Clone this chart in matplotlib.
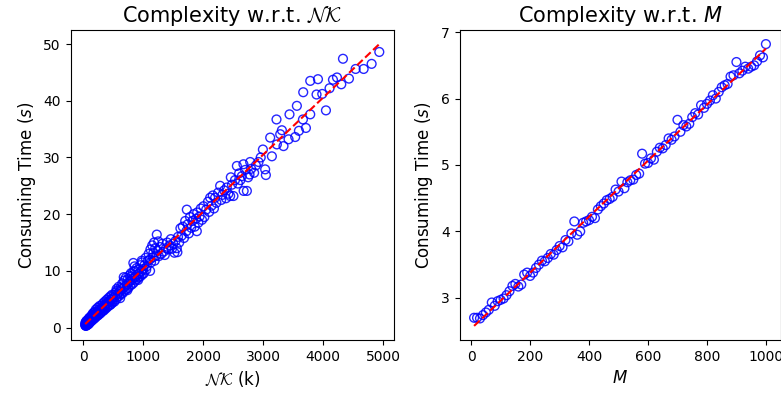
import numpy as np
import matplotlib
matplotlib.use("Agg")
import matplotlib.pyplot as plt

# ---- Left panel data: consuming time vs NK (k) ----
nk_x = [32, 35, 38, 40, 42, 45, 48, 50, 52, 55, 58, 60, 63, 65, 68, 70, 72, 75, 78, 80,
        83, 85, 88, 90, 93, 95, 98, 100, 105, 110, 115, 120, 125, 130, 135, 140, 145, 150,
        155, 160, 165, 170, 175, 180, 185, 190, 195, 200, 210, 220, 230, 240, 250, 260, 270,
        280, 290, 300, 310, 320, 330, 340, 350, 360, 370, 380, 390, 400, 410, 420, 430, 440,
        450, 460, 470, 480, 490, 500,
        36, 44, 53, 62, 74, 86, 97, 108, 118, 128, 142, 158, 172, 188, 205, 225, 245, 265,
        285, 305, 325, 345, 365, 385, 405, 425, 445, 465, 485,
        510, 520, 530, 540, 550, 560, 570, 580, 590, 600, 610, 620, 630, 640, 650, 660, 670,
        680, 690, 700, 710, 720, 730, 740, 750, 760, 770, 780, 790, 800, 810, 820, 830, 840,
        850, 860, 870, 880, 890, 900, 910, 920, 930, 940, 950, 960, 970, 980, 990, 1000,
        555, 615, 675, 735, 795, 835, 855, 915, 975,
        1010, 1020, 1040, 1050, 1060, 1080, 1090, 1114, 1110, 1120, 1130, 1150, 1160, 1170,
        1180, 1190, 1200, 1215, 1226, 1240, 1250, 1260, 1280, 1300, 1320, 1340, 1360, 1380,
        1400, 1420, 1440, 1460, 1480, 1500, 1520, 1540, 1560, 1570, 1580, 1600, 1620, 1640,
        1660, 1680, 1700, 1720, 1727, 1740, 1760, 1780, 1800, 1820, 1840, 1860, 1880, 1894,
        1900, 1920, 1940, 1960, 1980,
        2004, 2020, 2050, 2080, 2100, 2116, 2140, 2160, 2180, 2199, 2220, 2250, 2283, 2300,
        2320, 2350, 2380, 2394, 2420, 2450, 2461, 2480, 2505, 2530, 2562, 2580, 2600, 2620,
        2645, 2672, 2675, 2700, 2729, 2750, 2773, 2784, 2800, 2850, 2880, 2923, 2960, 2996,
        3034, 3046, 3118, 3146, 3223, 3229, 3285, 3313, 3340, 3424, 3440, 3535, 3563, 3597,
        3664, 3669, 3714, 3786, 3786, 3891, 3915, 3986, 4048, 4108, 4165, 4232, 4304, 4332,
        4432, 4543, 4677, 4810, 4938]
nk_y = [0.45, 0.6, 0.35, 0.8, 0.5, 0.3, 0.9, 0.6, 0.4, 1.0, 0.7, 0.5, 1.1, 0.8, 0.6, 1.2,
        0.7, 0.9, 1.3, 0.6, 1.0, 1.4, 0.8, 1.1, 1.6, 0.9, 1.2, 1.7, 1.0, 1.3, 1.8, 1.1, 1.5,
        2.0, 1.2, 1.6, 2.2, 1.4, 1.8, 2.5, 1.5, 1.9, 2.6, 1.6, 2.1, 2.8, 1.8, 2.3, 3.2, 2.0,
        2.6, 3.5, 2.2, 2.9, 3.8, 2.6, 3.1, 3.9, 2.8, 3.4, 4.3, 3.0, 3.7, 4.6, 3.3, 4.0, 4.9,
        3.6, 4.3, 5.2, 3.9, 4.6, 5.5, 4.1, 4.9, 5.8, 4.4, 5.2,
        0.9, 0.4, 1.2, 0.9, 0.5, 1.1, 0.7, 1.6, 1.0, 1.7, 1.2, 2.0, 1.5, 2.3, 1.8, 2.8, 2.2,
        3.2, 2.5, 3.4, 3.0, 4.0, 3.4, 4.3, 3.8, 4.7, 4.0, 5.0, 4.6,
        5.8, 4.6, 5.5, 6.2, 5.0, 6.5, 5.4, 6.0, 7.2, 5.6, 6.4, 7.0, 5.9, 6.8, 7.8, 6.1, 7.0,
        8.3, 6.5, 7.3, 8.8, 6.8, 7.6, 8.5, 7.0, 8.0, 9.2, 7.4, 8.3, 9.0, 7.6, 8.6, 9.8, 7.9,
        8.8, 10.0, 8.3, 9.0, 10.5, 8.6, 9.4, 10.2, 8.9, 9.6, 11.0, 9.1, 10.0, 11.5, 9.4, 10.3,
        6.8, 5.2, 8.9, 6.6, 9.6, 11.4, 10.8, 8.4, 11.8,
        9.6, 11.0, 12.3, 10.2, 10.8, 11.8, 13.0, 10.0, 12.0, 13.8, 11.5, 14.5, 12.4, 13.2,
        15.0, 11.8, 14.0, 12.7, 16.4, 13.5, 15.2, 12.6, 14.2, 13.0, 14.8, 13.4, 12.8, 14.0,
        15.0, 13.8, 14.5, 15.6, 13.9, 14.8, 13.2, 15.3, 14.0, 13.3, 16.0, 15.0, 17.5, 16.2,
        17.8, 15.8, 18.8, 17.0, 20.8, 18.2, 16.6, 19.5, 17.6, 18.8, 20.0, 17.8, 19.2, 17.0,
        20.3, 18.5, 19.6, 21.0, 19.0,
        21.4, 19.5, 20.8, 22.2, 20.4, 22.9, 21.5, 23.3, 21.0, 22.9, 22.0, 23.8, 25.0, 22.5,
        23.4, 24.2, 22.8, 24.7, 23.6, 23.2, 26.5, 25.2, 23.2, 26.0, 28.5, 25.4, 27.2, 26.0,
        26.7, 28.8, 24.1, 27.8, 24.1, 26.5, 27.0, 29.2, 28.0, 27.3, 28.6, 29.2, 30.0, 31.4,
        27.9, 26.9, 33.5, 30.2, 36.7, 32.3, 34.1, 34.8, 32.0, 33.2, 37.6, 33.6, 39.1, 34.7,
        36.7, 41.5, 35.2, 43.5, 37.6, 41.1, 43.8, 41.2, 38.3, 42.2, 43.7, 44.1, 42.9, 47.4,
        43.9, 45.6, 45.6, 46.5, 48.6]

# ---- Right panel data: consuming time vs M ----
m_x = list(range(10, 1001, 10))
m_y = [2.70, 2.70, 2.69, 2.74, 2.78, 2.82, 2.93, 2.88, 2.95, 2.97,
       2.99, 3.04, 3.10, 3.18, 3.21, 3.17, 3.20, 3.35, 3.38, 3.33,
       3.38, 3.45, 3.50, 3.56, 3.55, 3.60, 3.66, 3.65, 3.72, 3.78,
       3.76, 3.87, 3.85, 3.97, 4.15, 3.95, 4.00, 4.13, 4.15, 4.17,
       4.22, 4.20, 4.33, 4.38, 4.42, 4.47, 4.49, 4.52, 4.63, 4.60,
       4.75, 4.65, 4.74, 4.77, 4.78, 4.85, 4.87, 5.17, 5.02, 5.03,
       5.10, 5.08, 5.20, 5.26, 5.25, 5.30, 5.40, 5.38, 5.43, 5.68,
       5.50, 5.60, 5.58, 5.62, 5.72, 5.78, 5.76, 5.90, 5.86, 5.92,
       5.97, 6.05, 6.00, 6.10, 6.17, 6.20, 6.22, 6.33, 6.35, 6.55,
       6.38, 6.42, 6.48, 6.45, 6.48, 6.50, 6.56, 6.65, 6.62, 6.82]

titles = [r"Complexity w.r.t. $\mathcal{NK}$", r"Complexity w.r.t. $M$"]
xlabels = [r"$\mathcal{NK}$ (k)", r"$M$"]
ylabel = r"Consuming Time ($s$)"
math_fonts = ["cm", "dejavusans"]

fig = plt.figure(figsize=(7.81, 3.94), dpi=100)
ax1 = fig.add_axes([70.5 / 781, 54 / 394, 323.5 / 781, 310 / 394])
ax2 = fig.add_axes([459.5 / 781, 54 / 394, 321 / 781, 310 / 394])

for ax, xs, ys, title, xl, mf in [(ax1, nk_x, nk_y, titles[0], xlabels[0], math_fonts[0]),
                                  (ax2, m_x, m_y, titles[1], xlabels[1], math_fonts[1])]:
    xs = np.asarray(xs, float)
    ys = np.asarray(ys, float)
    ax.scatter(xs, ys, s=40, facecolors="none", edgecolors="blue", linewidths=1.0, alpha=0.85)
    k, b = np.polyfit(xs, ys, 1)
    xx = np.array([xs.min(), xs.max()])
    ax.plot(xx, k * xx + b, "r--", lw=1.5)
    ax.set_title(title, fontsize=15, math_fontfamily=mf)
    ax.set_xlabel(xl, fontsize=12, math_fontfamily=mf)
    ax.set_ylabel(ylabel, fontsize=12)
    ax.tick_params(labelsize=10)

ax1.set_xticks([0, 1000, 2000, 3000, 4000, 5000])
ax1.set_yticks([0, 10, 20, 30, 40, 50])
ax2.set_xticks([0, 200, 400, 600, 800, 1000])
ax2.set_yticks([3, 4, 5, 6, 7])

fig.savefig("out.png", dpi=100)
